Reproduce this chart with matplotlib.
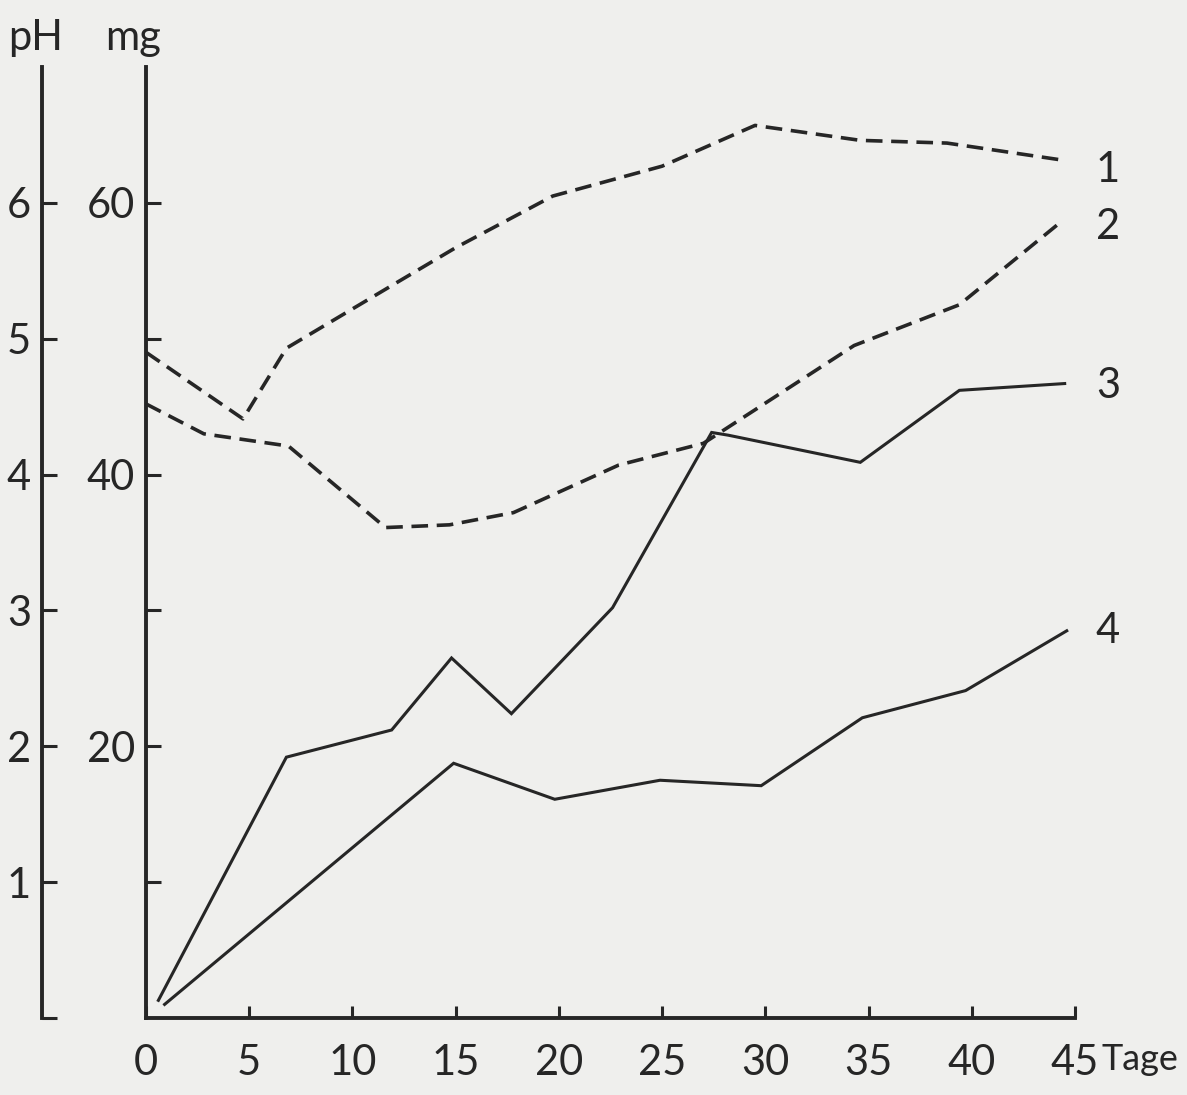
import matplotlib
matplotlib.use("Agg")
import matplotlib.pyplot as plt

# days (Tage) and mg values
days_1 = [0, 4.7, 6.8, 12, 15, 19.7, 25, 29.5, 34.6, 38.8, 44.6]
mg_1 = [49.0, 44.1, 49.3, 54.0, 56.7, 60.5, 62.7, 65.7, 64.6, 64.4, 63.1]

days_2 = [0, 2.8, 6.9, 11.6, 14.7, 17.8, 22.9, 27.0, 34.3, 39.4, 44.4]
mg_2 = [45.2, 43.0, 42.1, 36.1, 36.3, 37.2, 40.7, 42.3, 49.5, 52.5, 58.7]

days_3 = [0.6, 6.8, 11.9, 14.8, 17.7, 22.6, 27.4, 28.2, 34.6, 39.4, 44.5]
mg_3 = [1.3, 19.2, 21.2, 26.5, 22.4, 30.2, 43.1, 42.9, 40.9, 46.2, 46.7]

days_4 = [0.9, 14.9, 19.8, 24.9, 29.8, 34.7, 39.7, 44.6]
mg_4 = [1.0, 18.75, 16.1, 17.5, 17.1, 22.1, 24.1, 28.5]

x_ticks = [0, 5, 10, 15, 20, 25, 30, 35, 40, 45]
mg_ticks = [10, 20, 30, 40, 50, 60]
mg_labels = ["", "20", "", "40", "", "60"]
ph_ticks = [0, 1, 2, 3, 4, 5, 6]
ph_labels = ["", "1", "2", "3", "4", "5", "6"]
curve_names = ["1", "2", "3", "4"]

INK = "#262626"
PAPER = "#efefed"
FONT = "Lato"
FS = 30

fig = plt.figure(figsize=(11.87, 10.95), dpi=100, facecolor=PAPER)
W, H = 1187, 1095
x0, x1 = 146, 1075
y0, y1 = 1018, 67
ax = fig.add_axes([x0 / W, 1 - y0 / H, (x1 - x0) / W, (y0 - y1) / H])
ax.set_facecolor("none")

lw = 2.2
dash = (4.6, 2.4)
ax.plot(days_1, mg_1, color=INK, lw=2.6, dashes=dash)
ax.plot(days_2, mg_2, color=INK, lw=2.6, dashes=dash)
ax.plot(days_3, mg_3, color=INK, lw=lw, solid_joinstyle="miter")
ax.plot(days_4, mg_4, color=INK, lw=lw, solid_joinstyle="miter")

ax.set_xlim(0, 45)
ax.set_ylim(0, 70)
for s in ["top", "right"]:
    ax.spines[s].set_visible(False)
for s in ["left", "bottom"]:
    ax.spines[s].set_linewidth(2.8)
    ax.spines[s].set_color(INK)

txt = dict(fontfamily=FONT, fontsize=FS, color=INK)

ax.set_xticks(x_ticks)
ax.set_xticklabels([str(t) for t in x_ticks], **txt)
ax.set_yticks(mg_ticks)
ax.set_yticklabels(mg_labels, **txt)
ax.tick_params(axis="x", direction="in", length=9, width=2.2, pad=19, colors=INK)
ax.tick_params(axis="y", direction="in", length=11, width=2.2, pad=8, colors=INK)

# pH axis, same scale (pH = mg / 10)
ax2 = ax.twinx()
ax2.set_ylim(0, 7)
ax2.spines["left"].set_position(("axes", -(x0 - 42) / (x1 - x0)))
ax2.spines["left"].set_visible(True)
ax2.spines["left"].set_linewidth(2.8)
ax2.spines["left"].set_color(INK)
for s in ["top", "right", "bottom"]:
    ax2.spines[s].set_visible(False)
ax2.yaxis.set_ticks_position("left")
ax2.yaxis.set_label_position("left")
ax2.set_yticks(ph_ticks)
ax2.set_yticklabels(ph_labels, **txt)
ax2.tick_params(axis="y", direction="in", length=11, width=2.2, pad=8, colors=INK)

# axis titles
fig.text(36 / W, 1 - 38 / H, "pH", ha="center", va="center", **txt)
fig.text(133 / W, 1 - 38 / H, "mg", ha="center", va="center", **txt)
fig.text(1101 / W, 1 - 1060 / H, "Tage", ha="left", va="center",
         fontfamily=FONT, fontsize=26, color=INK)

# curve numbers at the right end
ends = [mg_1[-1], mg_2[-1], mg_3[-1], mg_4[-1]]
offsets = [-0.7, -0.5, -0.2, 0.0]
for name, y, dy in zip(curve_names, ends, offsets):
    ax.text(46.6, y + dy, name, ha="center", va="center", clip_on=False, **txt)

fig.savefig("out.png", dpi=100, facecolor=PAPER)
